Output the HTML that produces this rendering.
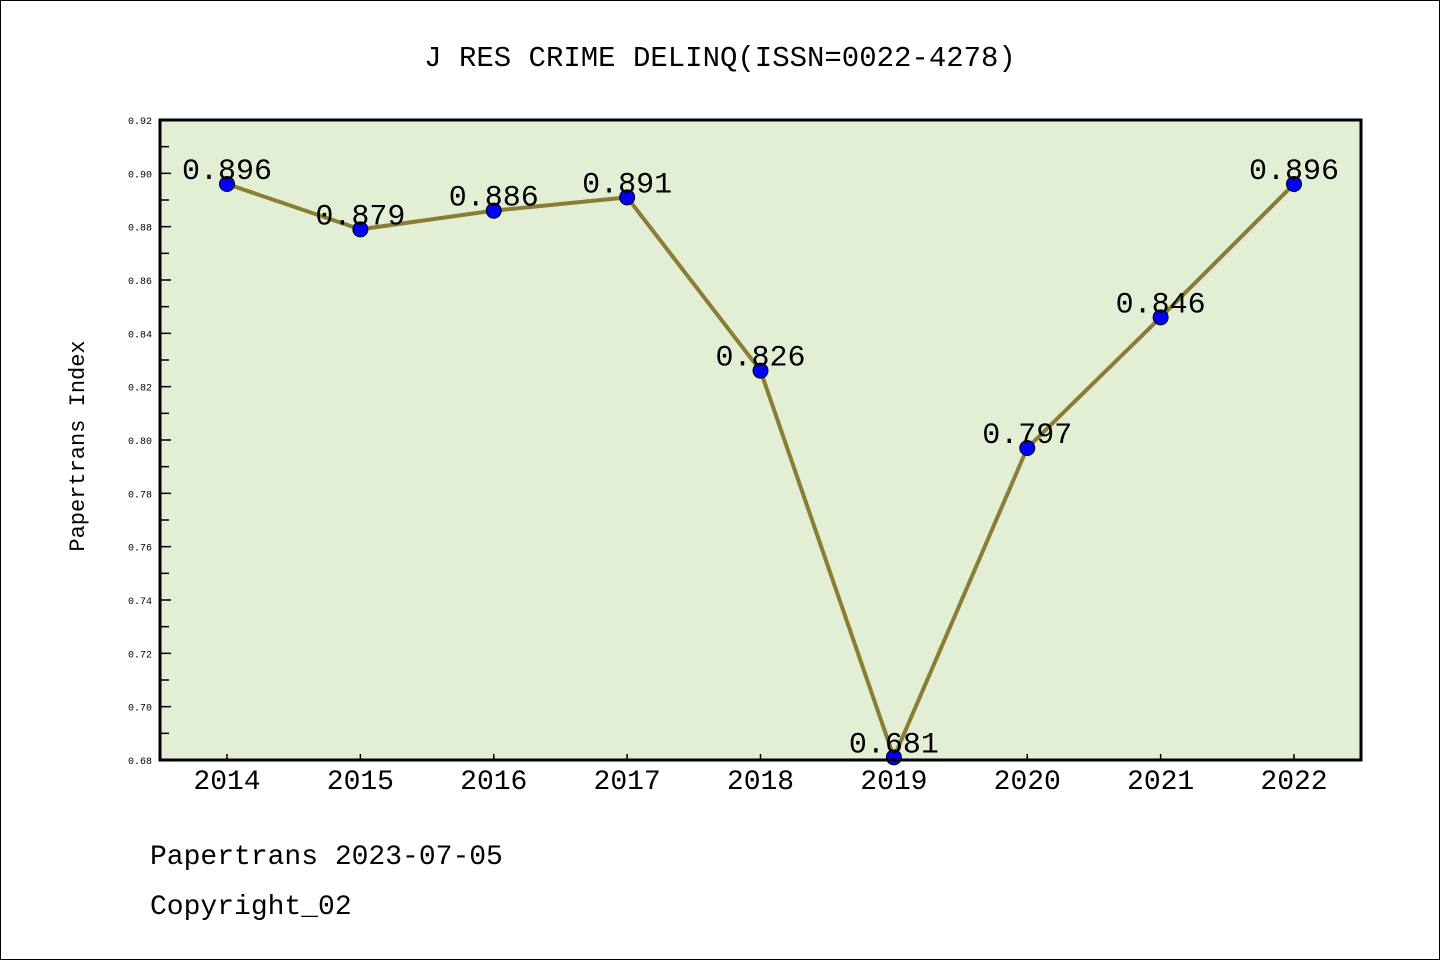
<!DOCTYPE html>
<html><head><meta charset="utf-8"><style>
html,body{margin:0;padding:0;background:#fff}
svg{display:block}
text{font-family:"Liberation Mono","DejaVu Sans Mono",monospace}
</style></head><body>
<svg width="1440" height="960" xmlns="http://www.w3.org/2000/svg">
<rect x="0.5" y="0.5" width="1439" height="959" fill="#fff" stroke="#000"/>
<text x="720" y="66" text-anchor="middle" font-size="29">J RES CRIME DELINQ(ISSN=0022-4278)</text>
<rect x="160" y="120" width="1201" height="640" fill="#e2efd5"/>
<g id="yticks"></g><g id="xticks"></g>
<polyline id="line" fill="none" stroke="#8b7d34" stroke-width="4"/>
<g id="points"></g><g id="labels"></g>
<rect x="160" y="120" width="1201" height="640" fill="none" stroke="#000" stroke-width="3"/>
<text transform="translate(84,446) rotate(-90)" text-anchor="middle" font-size="22">Papertrans Index</text>
<text x="150" y="864" font-size="28">Papertrans 2023-07-05</text>
<text x="150" y="914" font-size="28">Copyright_02</text>
</svg>
<script>
const years=["2014","2015","2016","2017","2018","2019","2020","2021","2022"];
const values=[0.896,0.879,0.886,0.891,0.826,0.681,0.797,0.846,0.896];
const yTickLabels=["0.68","0.70","0.72","0.74","0.76","0.78","0.80","0.82","0.84","0.86","0.88","0.90","0.92"];
const NS="http://www.w3.org/2000/svg";
const y=v=>120+(0.92-v)/(0.24)*640;
const x=i=>227+i*(1294-227)/(years.length-1);
function mk(t,a,p){const e=document.createElementNS(NS,t);for(const k in a)e.setAttribute(k,a[k]);p.appendChild(e);return e;}
const yt=document.getElementById('yticks');
yTickLabels.forEach(l=>{const v=parseFloat(l),yy=y(v);
 const t=mk('line',{x1:160,x2:171,y1:yy,y2:yy,stroke:'#000','stroke-width':1.5},yt);
 
 
 const tx=mk('text',{x:152,y:yy+4,'text-anchor':'end','font-size':10,'font-family':'Liberation Sans, sans-serif'},yt);tx.textContent=l;
 
 
 if(v<0.915){const m=mk('line',{x1:160,x2:169,y1:y(v+0.01),y2:y(v+0.01),stroke:'#000','stroke-width':1.5},yt);
 
 }
});
const xt=document.getElementById('xticks');
years.forEach((yr,i)=>{const t=mk('line',{x1:x(i),x2:x(i),y1:760,y2:754,stroke:'#000','stroke-width':1.5},xt);
 
 
 const tx=mk('text',{x:x(i),y:789,'text-anchor':'middle','font-size':28,'font-family':'Liberation Sans, sans-serif'},xt);tx.textContent=yr;
 
 
});
document.getElementById('line').setAttribute('points',values.map((v,i)=>x(i)+','+y(v)).join(' '));
const pg=document.getElementById('points'),lg=document.getElementById('labels');
values.forEach((v,i)=>{const c=mk('circle',{cx:x(i),cy:y(v),r:7.5,fill:'#0000ff',stroke:'#000','stroke-width':1},pg);
 
 
 const t=mk('text',{x:x(i),y:y(v)-5,'text-anchor':'middle','font-size':30},lg);t.textContent=v.toFixed(3);
 
 
});
</script>
</body></html>
